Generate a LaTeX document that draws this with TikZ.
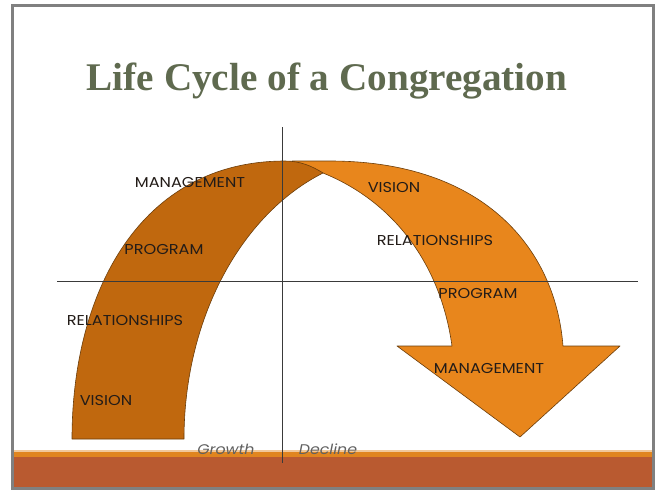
\documentclass[tikz,border=0pt]{standalone}
\usepackage{fontspec}
\setmainfont{Liberation Serif}
\newfontfamily\labelfont[FakeStretch=1.13]{Poppins}
\definecolor{titlecol}{HTML}{5F6A4F}
\definecolor{archdark}{HTML}{C0680E}
\definecolor{arrowlight}{HTML}{E8861C}
\definecolor{edgecol}{HTML}{6B3D0A}
\definecolor{rust}{HTML}{B95A30}
\definecolor{barorange}{HTML}{E0851F}
\definecolor{framegray}{HTML}{808080}
\definecolor{labelcol}{HTML}{231C18}
\definecolor{axiscol}{HTML}{3A3A3A}
\tikzset{
  shapeedge/.style={draw=edgecol, line width=0.6pt, line join=round},
  axisline/.style={draw=axiscol, line width=0.7pt},
  stagelabel/.style={font=\labelfont\fontsize{14.3}{16}\selectfont, text=labelcol, inner sep=0pt},
  phaselabel/.style={font=\labelfont\itshape\fontsize{14}{16}\selectfont, text=black!62, inner sep=0pt, anchor=base},
}
\begin{document}
\begin{tikzpicture}[x=1pt,y=-1pt]
\useasboundingbox (0,0) rectangle (655,490);
\fill[white] (0,0) rectangle (655,490);
% bottom bar
\fill[barorange!45] (12,450) rectangle (653,453);
\fill[barorange] (12,452) rectangle (653,457);
\fill[rust] (12,457) rectangle (653,488);
% frame
\draw[framegray, line width=3pt] (12,5.5) rectangle (653.5,488.5);
% title
\node[anchor=base, font=\bfseries\fontsize{39.2}{44}\selectfont, text=titlecol, inner sep=0pt] (title) at (327,90) {Life Cycle of a Congregation};
% right (decline) arrow
\path[fill=arrowlight, shapeedge]
  (292,161) -- (330,161) .. controls (480,161) and (555,245) .. (563,346)
  -- (620,346) -- (520,437) -- (397,346) -- (452,346)
  .. controls (440,260) and (390,200) .. (323,173)
  .. controls (312,168) and (300,164) .. (292,163) -- cycle;
% left (growth) arch
\path[fill=archdark, shapeedge]
  (72,439) .. controls (72,292) and (140,161) .. (285,161)
  .. controls (300,161) and (312,166) .. (323,173)
  .. controls (240,215) and (184,320) .. (184,439) -- cycle;
% axes
\coordinate (vtop) at (282,127);
\coordinate (vbot) at (282,463);
\coordinate (hleft) at (57,281);
\coordinate (hright) at (638,281);
\draw[axisline] (vtop) -- (vbot);
\draw[axisline] (hleft) -- (hright);
% labels on the growth arch
\node[stagelabel] (gman) at (190,182) {MANAGEMENT};
\node[stagelabel] (gprog) at (164,250) {PROGRAM};
\node[stagelabel] (grel) at (125,320) {RELATIONSHIPS};
\node[stagelabel] (gvis) at (106,400) {VISION};
% labels on the decline arrow
\node[stagelabel] (dvis) at (394,187) {VISION};
\node[stagelabel] (drel) at (435,240) {RELATIONSHIPS};
\node[stagelabel] (dprog) at (478,294) {PROGRAM};
\node[stagelabel] (dman) at (489,368) {MANAGEMENT};
% phase labels
\node[phaselabel] (growth) at (226,454) {Growth};
\node[phaselabel] (decline) at (328,454) {Decline};
\end{tikzpicture}
\end{document}
